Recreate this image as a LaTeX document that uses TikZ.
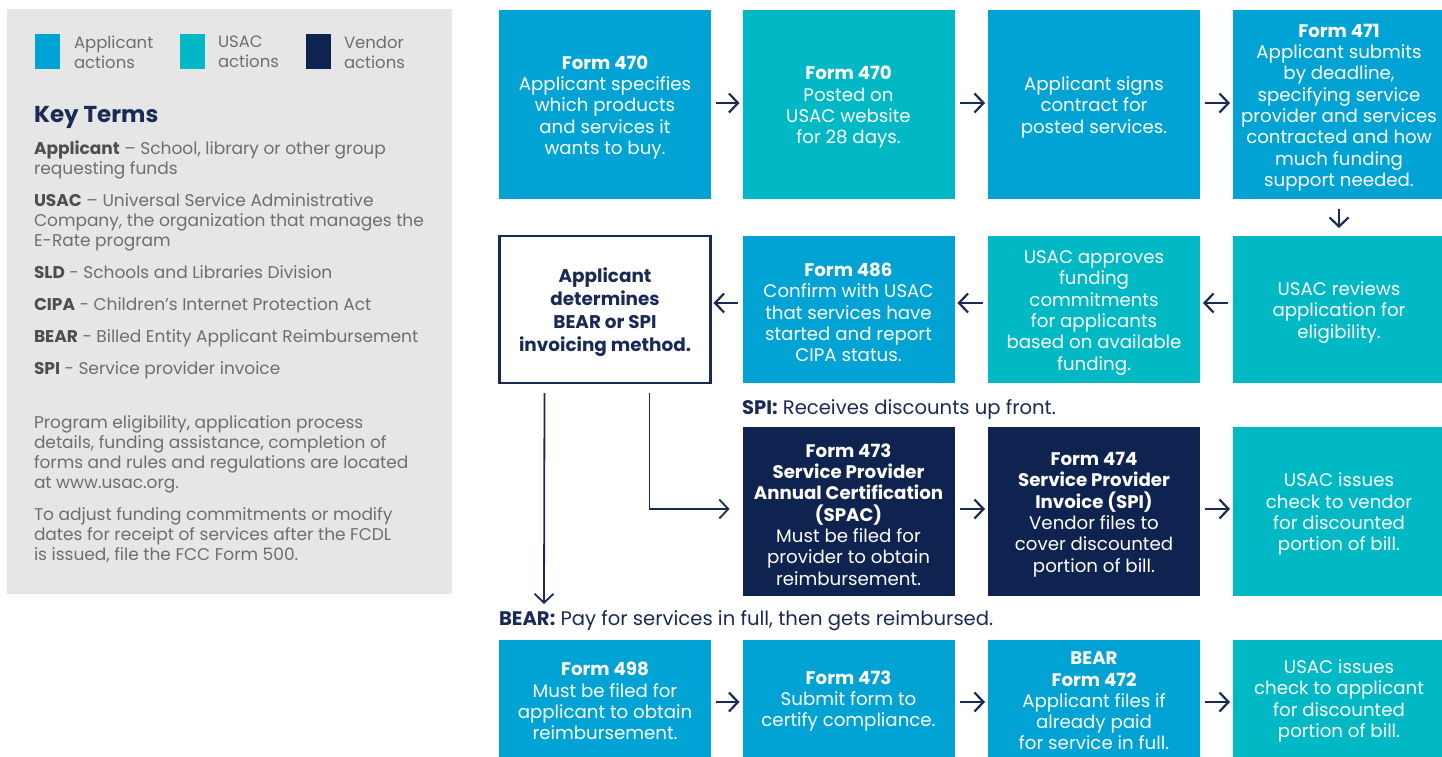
\documentclass[tikz,border=0pt]{standalone}
\usepackage{fontspec}
\setmainfont{Poppins}
\usetikzlibrary{arrows.meta}
\definecolor{appl}{HTML}{00A3D4}
\definecolor{usac}{HTML}{00B9C5}
\definecolor{vend}{HTML}{0F2350}
\definecolor{navy}{HTML}{1B2A55}
\definecolor{panel}{HTML}{E6E6E6}
\definecolor{gtext}{HTML}{6E6E6E}
\definecolor{gbold}{HTML}{4E4E4E}
\newcommand\topfix{\rule{0pt}{19.5pt}}
\begin{document}
\begin{tikzpicture}[x=1pt,y=-1pt,
  every node/.style={inner sep=0pt,outer sep=0pt},
  boxbase/.style={minimum width=212pt,align=center,text=white,
    font=\fontsize{18.2}{21.3}\selectfont},
  abox/.style={boxbase,fill=appl},
  ubox/.style={boxbase,fill=usac},
  vbox/.style={boxbase,fill=vend},
  rowa/.style={minimum height=189pt},
  rowb/.style={minimum height=147pt},
  rowc/.style={minimum height=169pt},
  rowd/.style={minimum height=122pt},
  flow/.style={draw=navy,line width=2.2pt,-{Straight Barb[length=9pt,width=19pt]}},
  bigline/.style={draw=navy,line width=1.8pt,-{Straight Barb[length=9pt,width=19pt]}},
  legsq/.style={minimum width=25pt,minimum height=35pt},
  legtx/.style={anchor=west,align=left,text=gtext,font=\fontsize{16.5}{20}\selectfont},
  keytx/.style={anchor=base west,align=left,text=gtext,font=\fontsize{17}{20}\selectfont},
  lbl/.style={anchor=base west,text=navy,font=\fontsize{19.6}{22}\selectfont}
]
\useasboundingbox (0,0) rectangle (1442,757);
% left panel
\fill[panel] (7,9) rectangle (452,594);
\node[legsq,fill=appl] (sqa) at (47.5,51.5) {};
\node[legsq,fill=usac] (squ) at (192.5,51.5) {};
\node[legsq,fill=vend] (sqv) at (318.5,51.5) {};
\node[legtx] (lga) at (74,52) {Applicant\\actions};
\node[legtx] (lgu) at (218,52) {USAC\\actions};
\node[legtx] (lgv) at (344,52) {Vendor\\actions};
\node[anchor=base west,text=navy,font=\fontsize{23}{26}\selectfont\bfseries] (kt) at (34,122) {Key Terms};
\node[keytx] (k1) at (34,174) {\textcolor{gbold}{\textbf{Applicant}} – School, library or other group\\requesting funds};
\node[keytx] (k2) at (34,246) {\textcolor{gbold}{\textbf{USAC}} – Universal Service Administrative\\Company, the organization that manages the\\E-Rate program};
\node[keytx] (k3) at (34,278) {\textcolor{gbold}{\textbf{SLD}} - Schools and Libraries Division};
\node[keytx] (k4) at (34,310) {\textcolor{gbold}{\textbf{CIPA}} - Children’s Internet Protection Act};
\node[keytx] (k5) at (34,342) {\textcolor{gbold}{\textbf{BEAR}} - Billed Entity Applicant Reimbursement};
\node[keytx] (k6) at (34,374) {\textcolor{gbold}{\textbf{SPI}} - Service provider invoice};
\node[keytx] (k7) at (34,488) {Program eligibility, application process\\details, funding assistance, completion of\\forms and rules and regulations are located\\at www.usac.org.};
\node[keytx] (k8) at (34,560) {To adjust funding commitments or modify\\dates for receipt of services after the FCDL\\is issued, file the FCC Form 500.};
% row 1
\node[abox,rowa] (a1) at (605,104.5) {\topfix\textbf{Form 470}\\Applicant specifies\\which products\\and services it\\wants to buy.};
\node[ubox,rowa] (a2) at (848.5,104.5) {\topfix\textbf{Form 470}\\Posted on\\USAC website\\for 28 days.};
\node[abox,rowa] (a3) at (1094,104.5) {\topfix Applicant signs\\contract for\\posted services.};
\node[abox,rowa] (a4) at (1339,104.5) {\topfix\textbf{Form 471}\\Applicant submits\\by deadline,\\specifying service\\provider and services\\contracted and how\\much funding\\support needed.};
% row 2
\node[boxbase,rowb,minimum width=211pt,draw=navy,line width=2.2pt,text=navy,font=\fontsize{18.4}{23}\selectfont\bfseries] (b1) at (605,309.5) {\rule{0pt}{21pt}Applicant\\determines\\BEAR or SPI\\invoicing method.};
\node[abox,rowb] (b2) at (848.5,309.5) {\topfix\textbf{Form 486}\\Confirm with USAC\\that services have\\started and report\\CIPA status.};
\node[ubox,rowb] (b3) at (1094,309.5) {\topfix USAC approves\\funding\\commitments\\for applicants\\based on available\\funding.};
\node[ubox,rowb] (b4) at (1339,309.5) {\topfix USAC reviews\\application for\\eligibility.};
% row 3
\node[lbl] (spi) at (742,414) {\textbf{SPI:} Receives discounts up front.};
\node[vbox,rowc] (c2) at (848.5,511.5) {\topfix\textbf{Form 473}\\\textbf{Service Provider}\\\textbf{Annual Certification}\\\textbf{(SPAC)}\\Must be filed for\\provider to obtain\\reimbursement.};
\node[vbox,rowc] (c3) at (1094,511.5) {\topfix\textbf{Form 474}\\\textbf{Service Provider}\\\textbf{Invoice (SPI)}\\Vendor files to\\cover discounted\\portion of bill.};
\node[ubox,rowc] (c4) at (1339,511.5) {\topfix USAC issues\\check to vendor\\for discounted\\portion of bill.};
% row 4
\node[lbl] (bear) at (499,625) {\textbf{BEAR:} Pay for services in full, then gets reimbursed.};
\node[abox,rowd] (d1) at (605,701) {\textbf{Form 498}\\Must be filed for\\applicant to obtain\\reimbursement.};
\node[abox,rowd] (d2) at (848.5,701) {\textbf{Form 473}\\Submit form to\\certify compliance.};
\node[abox,rowd] (d3) at (1094,701) {\textbf{BEAR}\\\textbf{Form 472}\\Applicant files if\\already paid\\for service in full.};
\node[ubox,rowd] (d4) at (1339,701) {USAC issues\\check to applicant\\for discounted\\portion of bill.};
% arrows
\draw[flow,shorten <=5pt,shorten >=3pt] ([yshift=1.5pt]a1.east) -- ([yshift=1.5pt]a2.west);
\draw[flow,shorten <=5pt,shorten >=3pt] ([yshift=1.5pt]a2.east) -- ([yshift=1.5pt]a3.west);
\draw[flow,shorten <=5pt,shorten >=3pt] ([yshift=1.5pt]a3.east) -- ([yshift=1.5pt]a4.west);
\draw[flow,shorten <=10pt,shorten >=8pt] (a4.south) -- (b4.north);
\draw[flow,shorten <=5pt,shorten >=3pt] ([yshift=6.5pt]b4.west) -- ([yshift=6.5pt]b3.east);
\draw[flow,shorten <=5pt,shorten >=3pt] ([yshift=6.5pt]b3.west) -- ([yshift=6.5pt]b2.east);
\draw[flow,shorten <=5pt,shorten >=3pt] ([yshift=6.5pt]b2.west) -- ([yshift=6.5pt]b1.east);
\draw[flow,shorten <=5pt,shorten >=3pt] ([yshift=2.5pt]c2.east) -- ([yshift=2.5pt]c3.west);
\draw[flow,shorten <=5pt,shorten >=3pt] ([yshift=2.5pt]c3.east) -- ([yshift=2.5pt]c4.west);
\draw[flow,shorten <=5pt,shorten >=3pt] ([yshift=-1pt]d1.east) -- ([yshift=-1pt]d2.west);
\draw[flow,shorten <=5pt,shorten >=3pt] ([yshift=-1pt]d2.east) -- ([yshift=-1pt]d3.west);
\draw[flow,shorten <=5pt,shorten >=3pt] ([yshift=-1pt]d3.east) -- ([yshift=-1pt]d4.west);
\coordinate (beartip) at (544,604);
\draw[bigline] ([xshift=45pt,yshift=-10pt]b1.south west) -- (beartip);
\draw[bigline] ([xshift=150pt,yshift=-10pt]b1.south west) |- ([xshift=-13pt,yshift=2.5pt]c2.west);
\end{tikzpicture}
\end{document}
